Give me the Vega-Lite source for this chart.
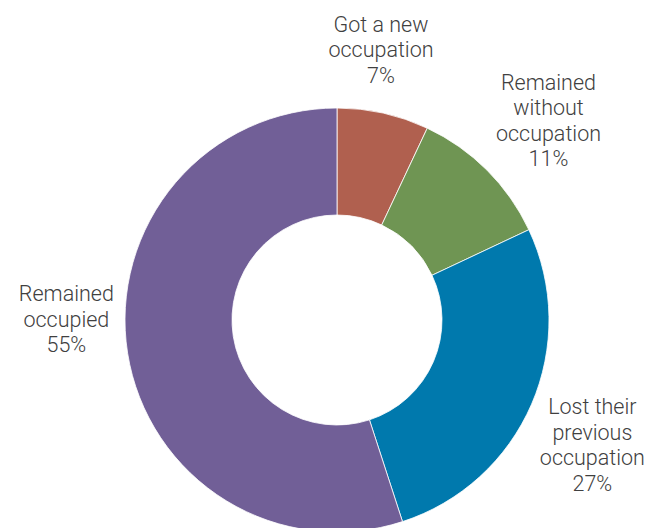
{
  "$schema": "https://vega.github.io/schema/vega-lite/v6.json",
  "width": 674,
  "height": 640,
  "autosize": {"type": "none"},
  "padding": 0,
  "background": "white",
  "data": {
    "values": [
      {"idx": 1, "category": "Got a new occupation", "value": 7, "label": "Got a new\noccupation\n7%"},
      {"idx": 2, "category": "Remained without occupation", "value": 11, "label": "Remained\nwithout\noccupation\n11%"},
      {"idx": 3, "category": "Lost their previous occupation", "value": 27, "label": "Lost their\nprevious\noccupation\n27%"},
      {"idx": 4, "category": "Remained occupied", "value": 55, "label": "Remained\noccupied\n55%"}
    ]
  },
  "encoding": {
    "theta": {"field": "value", "type": "quantitative", "stack": true},
    "order": {"field": "idx", "type": "quantitative"}
  },
  "layer": [
    {
      "mark": {"type": "arc", "radius": 212, "radius2": 105, "stroke": "white", "strokeWidth": 0.8},
      "encoding": {
        "color": {
          "field": "category",
          "type": "nominal",
          "scale": {
            "domain": ["Got a new occupation", "Remained without occupation", "Lost their previous occupation", "Remained occupied"],
            "range": ["#B0604F", "#6F9553", "#0079AD", "#715F97"]
          },
          "legend": null
        }
      }
    },
    {
      "mark": {"type": "text", "radius": 275, "dx": -16, "dy": -26, "lineBreak": "\n", "font": "Roboto", "fontWeight": 300, "fontSize": 21.5, "lineHeight": 25.5, "color": "#404040", "align": "center", "baseline": "middle"},
      "encoding": {"text": {"condition": {"test": "datum.idx == 1", "field": "label"}, "value": ""}}
    },
    {
      "mark": {"type": "text", "radius": 275, "dx": 17, "dy": -42, "lineBreak": "\n", "font": "Roboto", "fontWeight": 300, "fontSize": 21.5, "lineHeight": 25.5, "color": "#404040", "align": "center", "baseline": "middle"},
      "encoding": {"text": {"condition": {"test": "datum.idx == 2", "field": "label"}, "value": ""}}
    },
    {
      "mark": {"type": "text", "radius": 275, "dx": 3, "dy": -21, "lineBreak": "\n", "font": "Roboto", "fontWeight": 300, "fontSize": 21.5, "lineHeight": 25.5, "color": "#404040", "align": "center", "baseline": "middle"},
      "encoding": {"text": {"condition": {"test": "datum.idx == 3", "field": "label"}, "value": ""}}
    },
    {
      "mark": {"type": "text", "radius": 275, "dx": 1, "dy": -68, "lineBreak": "\n", "font": "Roboto", "fontWeight": 300, "fontSize": 21.5, "lineHeight": 25.5, "color": "#404040", "align": "center", "baseline": "middle"},
      "encoding": {"text": {"condition": {"test": "datum.idx == 4", "field": "label"}, "value": ""}}
    }
  ],
  "config": {"view": {"stroke": null}}
}
